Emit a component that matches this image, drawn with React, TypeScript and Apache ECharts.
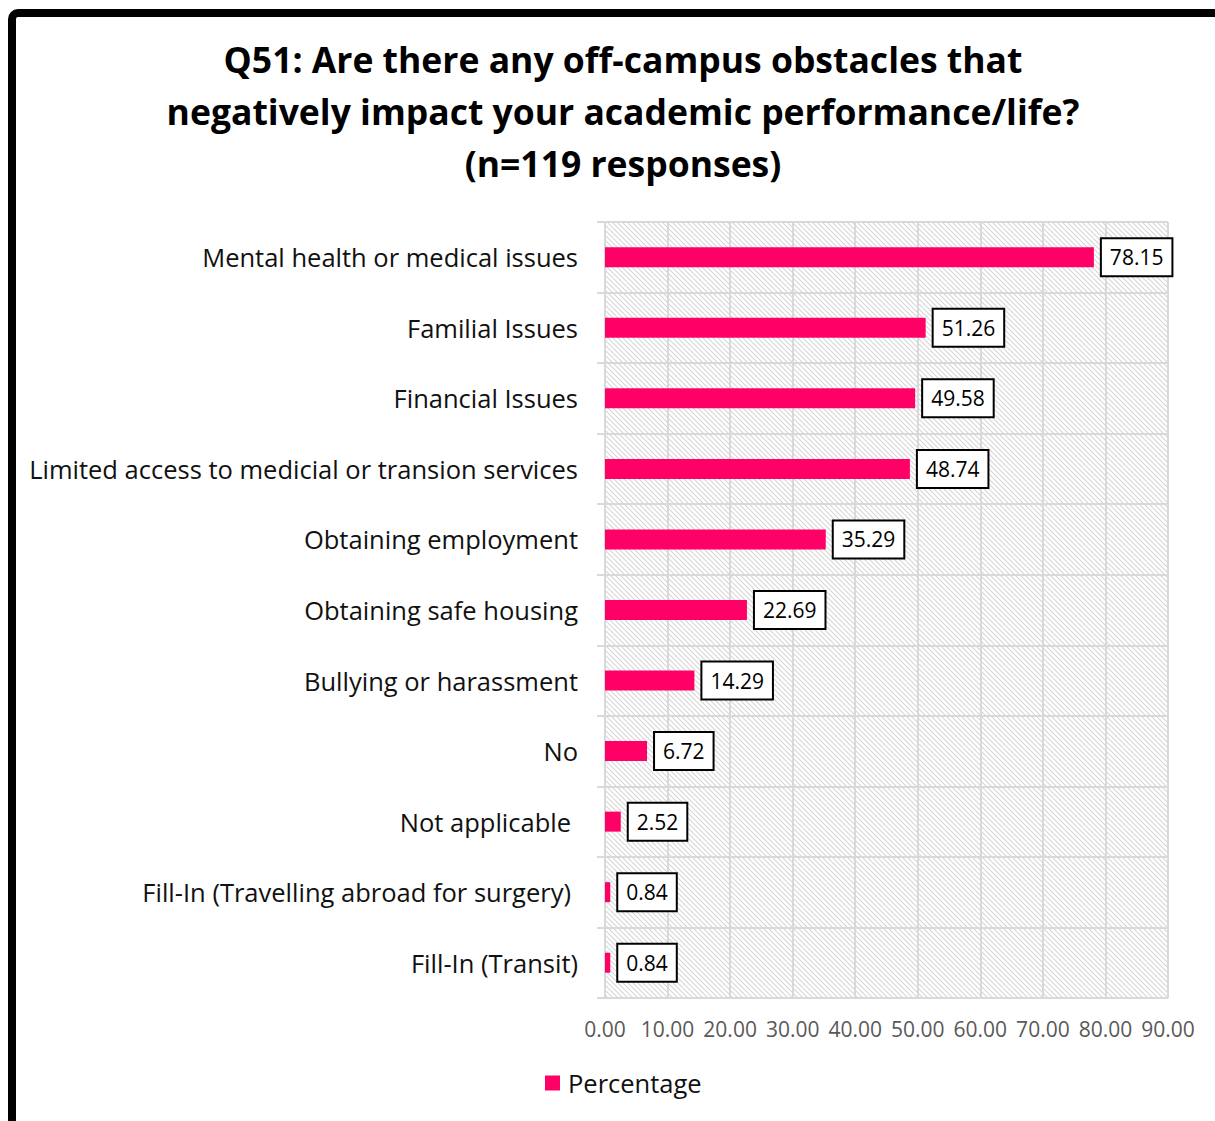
import React, { useEffect, useRef } from "react";
import * as echarts from "echarts";

const categories = [
  "Mental health or medical issues",
  "Familial Issues",
  "Financial Issues",
  "Limited access to medicial or transion services",
  "Obtaining employment",
  "Obtaining safe housing",
  "Bullying or harassment",
  "No",
  "Not applicable ",
  "Fill-In (Travelling abroad for surgery) ",
  "Fill-In (Transit)",
];
const percentages = [78.15, 51.26, 49.58, 48.74, 35.29, 22.69, 14.29, 6.72, 2.52, 0.84, 0.84];
const titleLines = [
  "Q51: Are there any off-campus obstacles that",
  "negatively impact your academic performance/life?",
  "(n=119 responses)",
];
const seriesName = "Percentage";

function makeHatch(): HTMLCanvasElement {
  const s = 5;
  const c = document.createElement("canvas");
  c.width = s;
  c.height = s;
  const ctx = c.getContext("2d")!;
  ctx.fillStyle = "#ffffff";
  ctx.fillRect(0, 0, s, s);
  ctx.strokeStyle = "#d6d6d6";
  ctx.lineWidth = 1.1;
  ctx.beginPath();
  ctx.moveTo(0, 0);
  ctx.lineTo(s, s);
  ctx.moveTo(-s / 2, s / 2);
  ctx.lineTo(s / 2, s * 1.5);
  ctx.moveTo(s / 2, -s / 2);
  ctx.lineTo(s * 1.5, s / 2);
  ctx.stroke();
  return c;
}

export default function App() {
  const ref = useRef<HTMLDivElement>(null);
  useEffect(() => {
    if (!ref.current) return;
    const chart = echarts.init(ref.current, null, { renderer: "svg" });
    const font = "'Open Sans', 'Noto Sans', sans-serif";
    chart.setOption({
      animation: false,
      backgroundColor: "#ffffff",
      textStyle: { fontFamily: font },
      title: {
        text: titleLines.join("\n"),
        left: 618,
        textAlign: "center",
        top: 28,
        textStyle: {
          fontFamily: font,
          fontSize: 35.5,
          fontWeight: "bold",
          color: "#000000",
          lineHeight: 52,
        },
      },
      graphic: [
        {
          type: "rect",
          shape: { x: 12, y: 13, width: 1400, height: 1400, r: 6 },
          style: { fill: "none", stroke: "#000000", lineWidth: 8 },
          z: 100,
        },
      ],
      legend: {
        bottom: 20,
        left: 540,
        itemWidth: 15,
        itemHeight: 15,
        icon: "rect",
        textStyle: { fontSize: 25.5, color: "#111111", fontFamily: font, padding: [0, 0, 0, 3] },
        data: [seriesName],
      },
      grid: {
        left: 605,
        right: 47,
        top: 222,
        bottom: 123,
        show: true,
        borderWidth: 0,
        backgroundColor: { image: makeHatch(), repeat: "repeat" },
      },
      xAxis: {
        type: "value",
        min: 0,
        max: 90,
        interval: 10,
        axisLine: { show: false },
        axisTick: { show: false },
        axisLabel: {
          formatter: (v: number) => v.toFixed(2),
          fontSize: 21,
          color: "#595959",
          margin: 20,
          fontFamily: font,
        },
        splitLine: { show: true, lineStyle: { color: "#d9d9d9", width: 2 } },
      },
      yAxis: {
        type: "category",
        inverse: true,
        data: categories,
        axisLine: { show: false },
        axisTick: { show: true, length: 8, lineStyle: { color: "#d9d9d9", width: 2 } },
        axisLabel: {
          fontSize: 25.5,
          color: "#111111",
          margin: 27,
          fontFamily: font,
          formatter: (v: string) => (v.endsWith(" ") ? `{pad|${v.trim()}}` : v),
          rich: {
            pad: { fontSize: 25.5, color: "#111111", fontFamily: font, padding: [0, 7, 0, 0] },
          },
        },
        splitLine: { show: true, lineStyle: { color: "#d9d9d9", width: 2 } },
      },
      series: [
        {
          name: seriesName,
          type: "bar",
          data: percentages,
          barWidth: 20,
          itemStyle: { color: "#FF0066" },
          label: {
            show: true,
            position: "right",
            distance: 8,
            formatter: (p: any) => p.value.toFixed(2),
            fontSize: 21,
            color: "#000000",
            backgroundColor: "#ffffff",
            borderColor: "#000000",
            borderWidth: 2,
            padding: [8, 8, 7, 8],
            fontFamily: font,
          },
        },
      ],
    });
    return () => chart.dispose();
  }, []);
  return <div ref={ref} style={{ width: 1215, height: 1121, position: "absolute", left: 0, top: 0 }} />;
}
